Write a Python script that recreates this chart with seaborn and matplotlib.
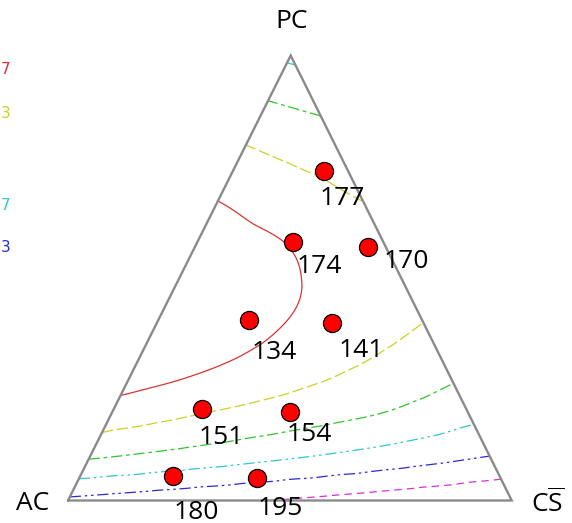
import numpy as np
import pandas as pd
import matplotlib
matplotlib.use("Agg")
import matplotlib.pyplot as plt
import matplotlib.tri as mtri
import seaborn as sns

# ---- data -------------------------------------------------------------
# Mixture compositions (fractions of AC, CS-bar and PC) and measured response
point_ac = [0.055, 0.205, 0.040, 0.390, 0.205, 0.595, 0.400, 0.735, 0.550]
point_cs = [0.205, 0.215, 0.390, 0.205, 0.395, 0.200, 0.400, 0.210, 0.400]
point_pc = [0.740, 0.580, 0.570, 0.405, 0.400, 0.205, 0.200, 0.055, 0.050]
point_value = [177, 174, 170, 134, 141, 151, 154, 180, 195]

# Fitted response over the simplex, one row per PC level (0.0 ... 1.0),
# entries stepping CS-bar by 0.1 starting from 0
grid_step = 0.1
response_rows = [
    [174.6, 175.8, 177.0, 178.2, 179.4, 180.5, 181.7, 182.9, 184.1, 185.3, 186.5],
    [159.0, 160.5, 162.0, 163.5, 165.1, 166.6, 168.2, 169.9, 171.6, 173.3],
    [149.4, 151.1, 152.9, 154.6, 156.3, 157.9, 159.6, 161.9, 164.3],
    [143.0, 145.0, 147.0, 149.1, 151.3, 153.4, 155.6, 157.9],
    [140.9, 142.8, 144.7, 146.9, 149.0, 151.2, 153.3],
    [141.5, 143.4, 145.3, 147.1, 148.4, 149.5],
    [144.5, 145.9, 147.3, 149.2, 151.3],
    [147.7, 149.8, 151.9, 154.2],
    [153.4, 155.5, 157.2],
    [160.1, 161.8],
    [168.0],
]

contour_levels = [146.67, 153.33, 160.0, 166.67, 173.33, 180.0]
# Only the last digit of each key entry fits at the left margin
legend_labels = ["7", "3", "7", "3"]

# ---- styling ----------------------------------------------------------
sns.set_theme(style="white")
plt.rcParams["font.family"] = ["Open Sans", "DejaVu Sans"]
plt.rcParams["mathtext.fontset"] = "custom"
plt.rcParams["mathtext.rm"] = "Open Sans"
plt.rcParams["text.color"] = "black"

level_colors = ["#dd3333", "#cfcf2a", "#2ec42e", "#2ec8c8", "#2a2ad8", "#d92ed9"]
level_styles = [
    "solid",
    (0, (9, 3)),
    (0, (9, 3, 3, 3)),
    (0, (9, 3, 2, 3, 2, 3)),
    (0, (9, 3, 2, 3, 2, 3)),
    (0, (6, 4)),
]
legend_colors = ["#dd3333", "#cfcf2a", "#2ec8c8", "#2a2ad8"]
legend_y = [69, 113, 205, 248]

# Corner positions of the triangle in figure pixels
corner_ac = np.array([68.0, 500.5])
corner_cs = np.array([511.7, 500.5])
corner_pc = np.array([290.7, 55.5])


def to_xy(ac, cs, pc):
    ac, cs, pc = (np.asarray(v, dtype=float) for v in (ac, cs, pc))
    x = ac * corner_ac[0] + cs * corner_cs[0] + pc * corner_pc[0]
    y = ac * corner_ac[1] + cs * corner_cs[1] + pc * corner_pc[1]
    return x, y


fig = plt.figure(figsize=(5.72, 5.23), dpi=100)
ax = fig.add_axes([0, 0, 1, 1])

# ---- response contours -------------------------------------------------
g_pc, g_cs, g_z = [], [], []
for i, row in enumerate(response_rows):
    for j, val in enumerate(row):
        g_pc.append(i * grid_step)
        g_cs.append(j * grid_step)
        g_z.append(val)
g_pc = np.array(g_pc)
g_cs = np.array(g_cs)
g_ac = np.clip(1 - g_pc - g_cs, 0, 1)
gx, gy = to_xy(g_ac, g_cs, g_pc)
tri = mtri.Triangulation(gx, gy)
interp = mtri.CubicTriInterpolator(tri, np.array(g_z), kind="geom")
refiner = mtri.UniformTriRefiner(tri)
tri_f, z_f = refiner.refine_field(np.array(g_z), triinterpolator=interp, subdiv=4)

for lvl, col, ls in zip(contour_levels, level_colors, level_styles):
    ax.tricontour(tri_f, z_f, levels=[lvl], colors=[col], linewidths=0.9,
                  linestyles=[ls], zorder=2)

# ---- triangle frame ----------------------------------------------------
frame = np.array([corner_ac, corner_cs, corner_pc, corner_ac])
ax.plot(frame[:, 0], frame[:, 1], color="#8a8a8a", lw=1.7, zorder=3,
        solid_joinstyle="miter")

# ---- design points ------------------------------------------------------
px, py = to_xy(point_ac, point_cs, point_pc)
df = pd.DataFrame({"x": px, "y": py, "value": point_value})
sns.scatterplot(data=df, x="x", y="y", ax=ax, s=170, color="#ff0000",
                edgecolor="black", linewidth=0.9, zorder=5, legend=False)
ax.set_xlim(0, 572)
ax.set_ylim(523, 0)
ax.axis("off")

label_offsets = [(18, 27), (27, 24), (38, 15), (25, 32), (29, 28),
                 (19, 28), (19, 23), (23, 36), (24, 30)]
for (x, y, v), (dx, dy) in zip(zip(px, py, point_value), label_offsets):
    ax.text(x + dx, y + dy, str(v), ha="center", va="center",
            fontsize=19, color="black", zorder=6)

# ---- corner labels ------------------------------------------------------
ax.text(292, 22, "PC", ha="center", va="center", fontsize=19)
ax.text(33, 503, "AC", ha="center", va="center", fontsize=19)
ax.text(548, 503, r"$\mathrm{C}\overline{\mathrm{S}}$", ha="center",
        va="center", fontsize=19)

# ---- contour level key at the left margin ------------------------------
for lab, col, yy in zip(legend_labels, legend_colors, legend_y):
    ax.text(0.5, yy, lab, ha="left", va="center", fontsize=11, color=col,
            family=["DejaVu Sans"])

fig.savefig("out.png", dpi=100)
